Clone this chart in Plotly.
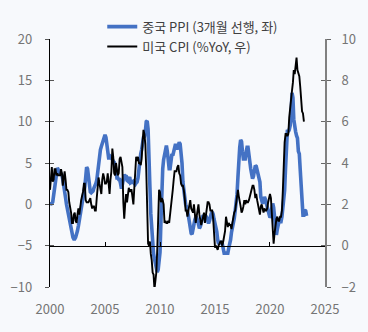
import pandas as pd
import plotly.graph_objects as go

# China PPI YoY (%), plotted with a 3-month lead (display months Jan 2000 - May 2023)
china_ppi_lead3 = [
    0.0, 0.0, 0.1, 0.3, 1.2, 2.2, 3.2, 4.0, 4.4, 4.2, 3.9, 3.8,
    3.7, 3.5, 3.0, 2.4, 1.4, 0.8, 0.0, -0.6, -1.3, -1.9, -2.5, -3.2,
    -3.6, -4.0, -4.2, -4.2, -4.0, -3.7, -3.2, -2.6, -1.9, -1.3, -0.7, -0.1,
    0.3, 1.0, 2.1, 3.3, 4.5, 4.3, 3.3, 2.4, 1.5, 1.4, 1.5, 1.6,
    2.0, 2.2, 2.5, 2.9, 3.9, 4.9, 6.1, 6.6, 7.0, 7.4, 7.9, 8.2,
    8.4, 8.1, 7.2, 6.2, 5.6, 5.6, 5.8, 5.7, 5.3, 5.2, 5.1, 4.7,
    4.0, 3.2, 3.2, 3.0, 3.0, 2.5, 1.9, 2.4, 3.5, 3.6, 3.4, 3.5,
    2.9, 2.8, 3.1, 3.3, 2.6, 2.7, 2.8, 2.8, 2.5, 2.4, 2.6, 2.7,
    3.2, 4.6, 5.4, 6.1, 6.6, 8.0, 8.1, 8.2, 8.8, 10.0, 10.1, 9.1,
    6.6, 2.0, -1.1, -3.3, -4.5, -6.0, -6.6, -7.2, -7.8, -8.2, -7.9, -7.0,
    -5.8, -2.1, 1.7, 4.3, 5.4, 5.9, 6.8, 7.1, 6.4, 4.8, 4.3, 4.3,
    5.0, 6.1, 5.9, 6.6, 7.2, 7.3, 6.8, 6.8, 7.1, 7.5, 7.3, 6.5,
    5.0, 2.7, 1.7, 0.7, 0.0, -0.3, -0.7, -1.4, -2.1, -2.9, -3.5, -3.6,
    -2.8, -2.2, -1.9, -1.6, -1.6, -1.9, -2.6, -2.9, -2.7, -2.3, -1.6, -1.3,
    -1.5, -1.4, -1.4, -1.6, -2.0, -2.3, -2.0, -1.4, -1.1, -0.9, -1.2, -1.8,
    -2.2, -2.7, -3.3, -4.3, -4.8, -4.6, -4.6, -4.6, -4.8, -5.4, -5.9, -5.9,
    -5.9, -5.9, -5.9, -5.3, -4.9, -4.3, -3.4, -2.8, -2.6, -1.7, -0.8, 0.1,
    1.2, 3.3, 5.5, 6.9, 7.8, 7.6, 6.4, 5.5, 5.5, 5.5, 6.3, 6.9,
    6.9, 5.8, 4.9, 4.3, 3.7, 3.1, 3.4, 4.1, 4.7, 4.6, 4.1, 3.6,
    3.3, 2.7, 0.9, 0.1, 0.1, 0.4, 0.9, 0.6, 0.0, -0.3, -0.8, -1.2,
    -1.6, -1.4, -0.5, 0.1, -0.4, -1.5, -3.1, -3.7, -3.0, -2.4, -2.0, -2.1,
    -2.1, -1.5, -0.4, 0.3, 1.7, 4.4, 6.8, 9.0, 8.8, 9.0, 9.5, 10.7,
    13.5, 12.9, 10.3, 9.1, 8.8, 8.3, 8.0, 6.4, 6.1, 4.2, 2.3, 0.9,
    -1.3, -1.3, -0.7, -0.8, -1.4,
]

# US CPI YoY (%), Jan 2000 - Feb 2023
us_cpi = [
    2.7, 3.2, 3.8, 3.1, 3.2, 3.7, 3.7, 3.4, 3.5, 3.4, 3.4, 3.4,
    3.7, 3.5, 2.9, 3.3, 3.6, 3.2, 2.7, 2.7, 2.6, 2.1, 1.9, 1.6,
    1.1, 1.1, 1.5, 1.6, 1.2, 1.1, 1.5, 1.8, 1.5, 2.0, 2.2, 2.4,
    2.6, 3.0, 3.0, 2.2, 2.1, 2.1, 2.1, 2.2, 2.3, 2.0, 1.8, 1.9,
    1.9, 1.7, 1.7, 2.3, 3.1, 3.3, 3.0, 2.7, 2.5, 3.2, 3.5, 3.3,
    3.0, 3.0, 3.1, 3.5, 2.8, 2.5, 3.2, 3.6, 4.7, 4.3, 3.5, 3.4,
    4.0, 3.6, 3.4, 3.5, 4.2, 4.3, 4.1, 3.8, 2.1, 1.3, 2.0, 2.5,
    2.1, 2.4, 2.8, 2.6, 2.7, 2.7, 2.4, 2.0, 2.8, 3.5, 4.3, 4.1,
    4.3, 4.0, 4.0, 3.9, 4.2, 5.0, 5.6, 5.4, 4.9, 3.7, 1.1, 0.1,
    0.0, 0.2, -0.4, -0.7, -1.3, -1.4, -2.1, -1.5, -1.3, -0.2, 1.8, 2.7,
    2.6, 2.1, 2.3, 2.2, 2.0, 1.1, 1.2, 1.1, 1.1, 1.2, 1.1, 1.5,
    1.6, 2.1, 2.7, 3.2, 3.6, 3.6, 3.6, 3.8, 3.9, 3.5, 3.4, 3.0,
    2.9, 2.9, 2.7, 2.3, 1.7, 1.7, 1.4, 1.7, 2.0, 2.2, 1.8, 1.7,
    1.6, 2.0, 1.5, 1.1, 1.4, 1.8, 2.0, 1.5, 1.2, 1.0, 1.2, 1.5,
    1.6, 1.1, 1.5, 2.0, 2.1, 2.1, 2.0, 1.7, 1.7, 1.7, 1.3, 0.8,
    -0.1, 0.0, -0.1, -0.2, 0.0, 0.1, 0.2, 0.2, 0.0, 0.2, 0.5, 0.7,
    1.4, 1.0, 0.9, 1.1, 1.0, 1.0, 0.8, 1.1, 1.5, 1.6, 1.7, 2.1,
    2.5, 2.7, 2.4, 2.2, 1.9, 1.6, 1.7, 1.9, 2.2, 2.0, 2.2, 2.1,
    2.1, 2.2, 2.4, 2.5, 2.8, 2.9, 2.9, 2.7, 2.3, 2.5, 2.2, 1.9,
    1.6, 1.5, 1.9, 2.0, 1.8, 1.6, 1.8, 1.7, 1.7, 1.8, 2.1, 2.3,
    2.5, 2.3, 1.5, 0.3, 0.1, 0.6, 1.0, 1.3, 1.4, 1.2, 1.2, 1.4,
    1.4, 1.7, 2.6, 4.2, 5.0, 5.4, 5.4, 5.3, 5.4, 6.2, 6.8, 7.0,
    7.5, 7.9, 8.5, 8.3, 8.6, 9.1, 8.5, 8.3, 8.2, 7.7, 7.1, 6.5,
    6.4, 6.0,
]

series_names = ["중국 PPI (3개월 선행, 좌)", "미국 CPI (%YoY, 우)"]
year_ticks = [2000, 2005, 2010, 2015, 2020, 2025]
left_ticks = [-10, -5, 0, 5, 10, 15, 20]
right_ticks = [-2, 0, 2, 4, 6, 8, 10]

ppi_dates = pd.date_range("2000-01-01", periods=len(china_ppi_lead3), freq="MS")
cpi_dates = pd.date_range("2000-01-01", periods=len(us_cpi), freq="MS")
tickdates = [f"{y}-01-01" for y in year_ticks]
xrange_ = [tickdates[0], tickdates[-1]]

FONT = "Noto Sans CJK KR"
LABEL = "#757575"
BG = "#f7f9fc"

fig = go.Figure()
fig.add_trace(go.Scatter(x=ppi_dates, y=china_ppi_lead3, name=series_names[0],
                         mode="lines", line=dict(color="#4472C4", width=3.6),
                         xaxis="x", yaxis="y"))
fig.add_trace(go.Scatter(x=cpi_dates, y=us_cpi, name=series_names[1],
                         mode="lines", line=dict(color="#000000", width=1.9),
                         xaxis="x", yaxis="y2"))
# empty helper traces so the decoration axes are drawn
fig.add_trace(go.Scatter(x=[], y=[], xaxis="x2", yaxis="y", showlegend=False, hoverinfo="skip"))
fig.add_trace(go.Scatter(x=[], y=[], xaxis="x", yaxis="y3", showlegend=False, hoverinfo="skip"))
fig.add_trace(go.Scatter(x=[], y=[], xaxis="x", yaxis="y4", showlegend=False, hoverinfo="skip"))

fig.update_layout(
    width=368, height=332,
    margin=dict(l=50, r=43, t=39, b=45, autoexpand=False),
    paper_bgcolor=BG, plot_bgcolor=BG,
    font=dict(family=FONT, size=13, color=LABEL),
    showlegend=True,
    legend=dict(x=0.19, y=1.11, xanchor="left", yanchor="top",
                bgcolor="rgba(0,0,0,0)", font=dict(size=13, color="#404040"),
                tracegroupgap=0, itemwidth=30),
    xaxis=dict(type="date", range=xrange_, tickvals=tickdates, tickformat="%Y",
               showline=False, showgrid=False, zeroline=False, ticks="",
               ticklabelstandoff=13, tickfont=dict(color=LABEL, size=13)),
    xaxis2=dict(type="date", range=xrange_, tickvals=tickdates, overlaying="x",
                anchor="free", position=1/6, showline=True, linecolor="#000000",
                linewidth=1.3, ticks="inside", ticklen=4, tickcolor="#000000",
                showticklabels=False, showgrid=False, zeroline=False),
    yaxis=dict(range=[-10, 20], tickvals=left_ticks, showline=True,
               linecolor="#000000", linewidth=1.3, ticks="outside", ticklen=4,
               tickcolor="#555555", showgrid=False, zeroline=False,
               ticklabelstandoff=10, tickfont=dict(color=LABEL, size=13)),
    yaxis3=dict(range=[-10, 20], tickvals=left_ticks, overlaying="y", anchor="x",
                side="left", ticks="inside", ticklen=4, tickcolor="#555555",
                showticklabels=False, showline=False, showgrid=False, zeroline=False),
    yaxis2=dict(range=[-2, 10], tickvals=right_ticks, overlaying="y", side="right",
                anchor="x", showline=True, linecolor="#808080", linewidth=2,
                ticks="outside", ticklen=4, tickcolor="#666666", showgrid=False,
                zeroline=False, ticklabelstandoff=8,
                tickfont=dict(color=LABEL, size=13)),
    yaxis4=dict(range=[-2, 10], tickvals=right_ticks, overlaying="y", side="right",
                anchor="x", ticks="inside", ticklen=4, tickcolor="#666666",
                showticklabels=False, showline=False, showgrid=False, zeroline=False),
)

fig.write_html("out.html")
